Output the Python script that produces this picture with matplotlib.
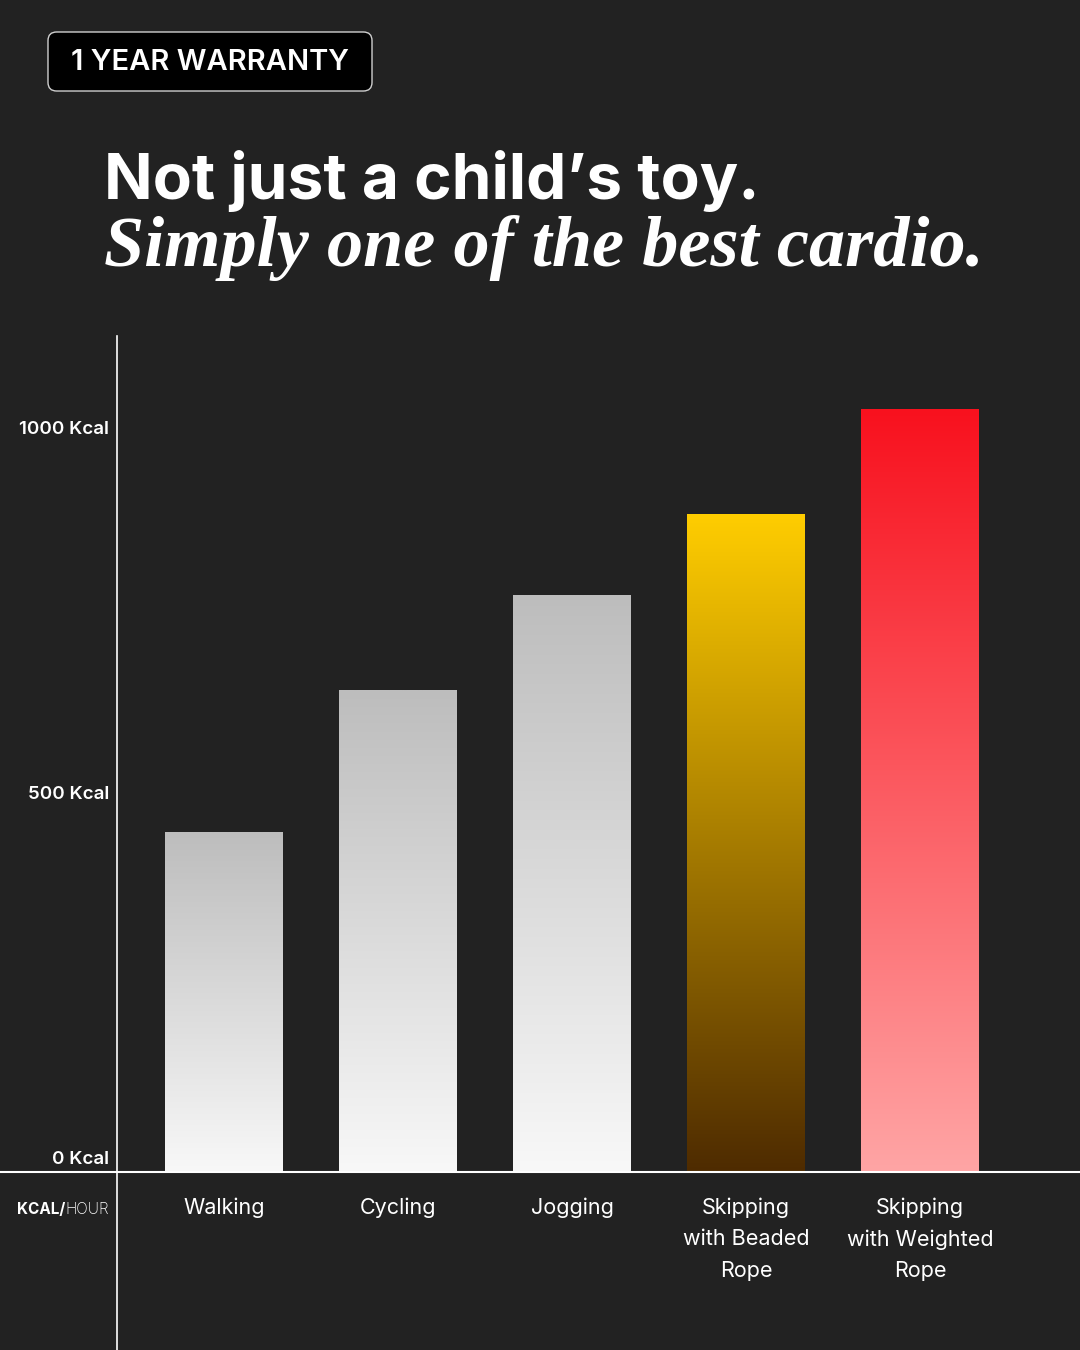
import numpy as np
import matplotlib
matplotlib.use("Agg")
import matplotlib.pyplot as plt
from matplotlib.colors import to_rgb
from matplotlib.patches import FancyBboxPatch
from matplotlib.lines import Line2D
from matplotlib.transforms import offset_copy, blended_transform_factory

# ---- data ----
categories = ["Walking", "Cycling", "Jogging", "Skipping\nwith Beaded\nRope", "Skipping\nwith Weighted\nRope"]
kcal_per_hour = [465, 660, 790, 900, 1045]
tick_values = [0, 500, 1000]
tick_labels = ["0 Kcal", "500 Kcal", "1000 Kcal"]
bar_top_colors = ["#bdbdbd", "#bdbdbd", "#bdbdbd", "#ffcd00", "#f8111e"]
bar_bottom_colors = ["#f8f8f8", "#f8f8f8", "#f8f8f8", "#4e2b00", "#ffa5a5"]

BG = "#222222"
W, H = 1080, 1350
fig = plt.figure(figsize=(W / 100, H / 100), dpi=100, facecolor=BG)

def fx(px):
    return px / W

def fy(py):
    return 1 - py / H

# main axes: left edge at x=117, bottom at y=1172, top at y=336
ax_l, ax_r, ax_b, ax_t = 117, 1080, 1172, 336
ax = fig.add_axes([fx(ax_l), fy(ax_b), fx(ax_r - ax_l), (ax_b - ax_t) / H])
ax.set_facecolor(BG)
px_per_unit_y = 0.73
spacing = 174.0
first_center = 224
x0 = -(first_center - ax_l) / spacing
for s in ax.spines.values():
    s.set_visible(False)
ax.set_xticks([])
ax.set_yticks([])

bar_w = 118 / spacing
xs = np.arange(len(categories))
grad_n = 256
for x, v, ct, cb in zip(xs, kcal_per_hour, bar_top_colors, bar_bottom_colors):
    t = np.linspace(0, 1, grad_n)[:, None]
    c_top = np.array(to_rgb(ct))
    c_bot = np.array(to_rgb(cb))
    img = (c_bot[None, :] * (1 - t) + c_top[None, :] * t)[:, None, :]
    ax.imshow(img, extent=(x - bar_w / 2, x + bar_w / 2, 0, v), origin="lower",
              aspect="auto", interpolation="bilinear", zorder=2)
ax.set_xlim(x0, x0 + (ax_r - ax_l) / spacing)
ax.set_ylim(0, (ax_b - ax_t) / px_per_unit_y)

# y tick labels (right aligned at x=109, baseline ~8px above value)
ytrans = blended_transform_factory(fig.transFigure, ax.transData)
ytrans = offset_copy(ytrans, fig=fig, x=0, y=8, units="dots")
for v, lab in zip(tick_values, tick_labels):
    ax.text(fx(109), v, lab, transform=ytrans, ha="right", va="baseline",
            fontsize=13.5, fontweight="semibold", family="Inter", color="white")

# category labels
xtrans = blended_transform_factory(ax.transData, fig.transFigure)
for x, lab in zip(xs, categories):
    ax.text(x, fy(1197), lab, transform=xtrans, ha="center", va="top",
            fontsize=15.5, family="Inter", fontweight="normal", color="white",
            linespacing=1.72, multialignment="center")

# axis lines
fig.add_artist(Line2D([fx(117), fx(117)], [fy(336), fy(1350)], color="white", lw=1.2))
fig.add_artist(Line2D([0, 1], [fy(1172), fy(1172)], color="white", lw=1.5))

# KCAL/HOUR label
hour = fig.text(fx(109), fy(1209), "HOUR", ha="right", va="center", fontsize=11,
                family="Inter", fontweight="light", color="white")
ax.annotate("KCAL/", xy=(0, 0.5), xycoords=hour, ha="right", va="center",
            fontsize=11, family="Inter", fontweight="bold", color="white",
            annotation_clip=False)

# warranty badge
badge = FancyBboxPatch((fx(48), fy(91)), fx(372 - 48), (91 - 32) / H,
                       boxstyle="round,pad=0,rounding_size=0.008",
                       transform=fig.transFigure, facecolor="black",
                       edgecolor="#d0d0d0", lw=1.0, mutation_aspect=W / H)
fig.add_artist(badge)
fig.text(fx(210), fy(62), "1 YEAR WARRANTY", ha="center", va="center",
         fontsize=21, family="Inter", fontweight="semibold", color="white")

# headline
fig.text(fx(104), fy(199), "Not just a child\u2019s toy.", ha="left", va="baseline",
         fontsize=46, family="Inter", fontweight="bold", color="white")
fig.text(fx(104), fy(266), "Simply one of the best cardio.", ha="left", va="baseline",
         fontsize=52, family="Liberation Serif", fontweight="bold", style="italic",
         color="white")

fig.savefig("out.png", dpi=100, facecolor=BG)
